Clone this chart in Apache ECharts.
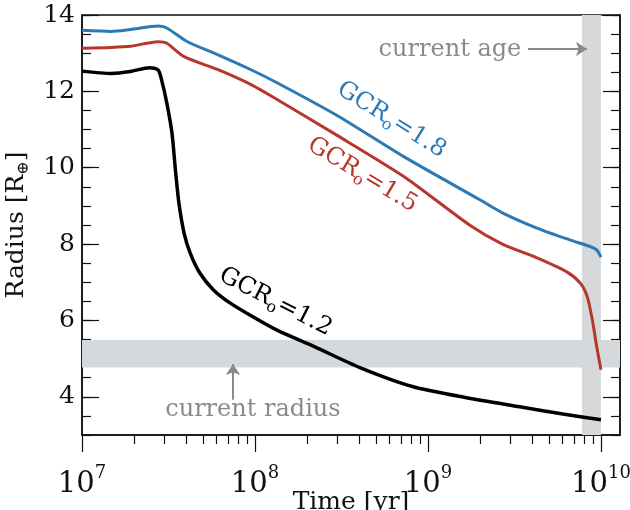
<!DOCTYPE html>
<html>
<head>
<meta charset="utf-8">
<script src="https://cdn.jsdelivr.net/npm/echarts@6/dist/echarts.min.js"></script>
<style>
html, body { margin: 0; padding: 0; background: #fff; }
#chart { width: 630px; height: 510px; }
</style>
</head>
<body>
<div id="chart"></div>
<script>
// x values are log10(age / yr), drawn on a linear axis labelled 10^n
var logAgeBlue = [7.0, 7.17, 7.28, 7.44, 7.49, 7.61, 7.79, 7.98, 8.13, 8.47, 8.86, 9.30, 9.43, 9.63, 9.82, 9.94, 9.975, 10.0];
var radiusBlue = [13.60, 13.57, 13.62, 13.71, 13.66, 13.30, 12.95, 12.56, 12.22, 11.38, 10.29, 9.16, 8.82, 8.42, 8.11, 7.93, 7.85, 7.66];

var logAgeRed = [7.0, 7.17, 7.28, 7.44, 7.49, 7.59, 7.79, 7.98, 8.13, 8.47, 8.86, 9.24, 9.43, 9.63, 9.80, 9.88, 9.92, 9.95, 9.975, 10.0];
var radiusRed = [13.13, 13.15, 13.18, 13.30, 13.26, 12.91, 12.56, 12.17, 11.78, 10.86, 9.77, 8.50, 8.00, 7.64, 7.28, 6.98, 6.63, 6.02, 5.32, 4.71];

var logAgeBlack = [7.0, 7.17, 7.28, 7.39, 7.44, 7.46, 7.49, 7.52, 7.54, 7.56, 7.59, 7.625, 7.68, 7.76, 7.855, 7.99, 8.13, 8.34, 8.61, 8.91, 9.23, 9.53, 9.78, 10.0];
var radiusBlack = [12.53, 12.47, 12.52, 12.62, 12.56, 12.30, 11.70, 10.91, 9.94, 9.08, 8.29, 7.77, 7.25, 6.80, 6.46, 6.09, 5.74, 5.32, 4.76, 4.27, 3.97, 3.74, 3.55, 3.40];

var decades = [7, 8, 9, 10];
var radiusTicks = [4, 6, 8, 10, 12, 14];
var currentAge = [9.89, 10.0];      // log10 yr
var currentRadius = [4.77, 5.49];   // R_earth

var AGE_MIN = 7, AGE_MAX = 10.11;
var R_MIN = 3, R_MAX = 14;
var FONT = 'DejaVu Serif';
var GREY = '#8b8b86';

var minorAge = [];
for (var d = 7; d < 10; d++) {
    for (var k = 2; k < 10; k++) {
        minorAge.push(d + Math.log10(k));
    }
}

function pairs(xs, ys) {
    return xs.map(function (x, i) { return [x, ys[i]]; });
}

function gcrLabel(coord, text, rot, color) {
    return {
        symbol: 'circle',
        symbolSize: 0,
        silent: true,
        itemStyle: { color: 'transparent' },
        label: {
            show: true,
            position: 'inside',
            rotate: rot,
            color: color,
            formatter: '{m|GCR}{o|o}{m|=' + text + '}',
            rich: {
                m: { fontFamily: FONT, fontSize: 24, lineHeight: 26, verticalAlign: 'top', color: color },
                o: { fontFamily: FONT, fontSize: 16, lineHeight: 16, padding: [11, 0, 0, 0], verticalAlign: 'top', color: color }
            }
        },
        data: [{ coord: coord }]
    };
}

var tickLine = { color: '#111', width: 1.2 };

var option = {
    animation: false,
    backgroundColor: '#fff',
    grid: {
        left: 82, right: 10, top: 15, bottom: 75,
        outerBoundsMode: 'none', containLabel: false,
        show: true, borderColor: '#111', borderWidth: 1.5, backgroundColor: 'transparent'
    },
    xAxis: [{
        type: 'value', min: AGE_MIN, max: AGE_MAX, position: 'bottom',
        axisLine: { show: true, lineStyle: { color: '#111', width: 1.5 } },
        axisTick: { show: true, customValues: decades, length: 17, lineStyle: tickLine },
        axisLabel: {
            customValues: decades, margin: 35, color: '#111',
            formatter: function (v) { return '{b|10}{s|' + v + '}'; },
            rich: {
                b: { fontFamily: FONT, fontSize: 29, lineHeight: 29, verticalAlign: 'bottom', color: '#111' },
                s: { fontFamily: FONT, fontSize: 18, lineHeight: 18, padding: [0, 0, 17, 0], verticalAlign: 'bottom', color: '#111' }
            }
        },
        splitLine: { show: false },
        name: 'Time [yr]', nameLocation: 'middle', nameGap: 55, nameMoveOverlap: false,
        nameTextStyle: { fontFamily: FONT, fontSize: 25, color: '#111' }
    }, {
        type: 'value', min: AGE_MIN, max: AGE_MAX, position: 'bottom',
        axisLine: { show: false },
        axisTick: { show: true, customValues: minorAge, length: 9, lineStyle: tickLine },
        axisLabel: { show: false },
        splitLine: { show: false }
    }],
    yAxis: [{
        type: 'value', min: R_MIN, max: R_MAX, position: 'left',
        axisLine: { show: true, lineStyle: { color: '#111', width: 1.5 } },
        axisTick: { show: true, inside: true, customValues: radiusTicks, length: 17, lineStyle: tickLine },
        axisLabel: { customValues: radiusTicks, margin: 7, fontFamily: FONT, fontSize: 25, color: '#111' },
        splitLine: { show: false },
        name: '{a|Radius [R}{e|⊕}{a|]}', nameLocation: 'middle', nameGap: 46, nameRotate: 90,
        nameTextStyle: {
            rich: {
                a: { fontFamily: FONT, fontSize: 25, lineHeight: 28, verticalAlign: 'top', color: '#111' },
                e: { fontFamily: FONT, fontSize: 16, lineHeight: 16, padding: [12, 0, 0, 0], verticalAlign: 'top', color: '#111' }
            }
        }
    }, {
        type: 'value', min: R_MIN, max: R_MAX, interval: 0.5, position: 'left',
        axisLine: { show: false },
        axisTick: { show: true, inside: true, length: 9, lineStyle: tickLine },
        axisLabel: { show: false },
        splitLine: { show: false }
    }, {
        type: 'value', min: R_MIN, max: R_MAX, position: 'right',
        axisLine: { show: true, lineStyle: { color: '#111', width: 1.5 } },
        axisTick: { show: true, inside: true, customValues: radiusTicks, length: 17, lineStyle: tickLine },
        axisLabel: { show: false },
        splitLine: { show: false }
    }, {
        type: 'value', min: R_MIN, max: R_MAX, interval: 0.5, position: 'right',
        axisLine: { show: false },
        axisTick: { show: true, inside: true, length: 9, lineStyle: tickLine },
        axisLabel: { show: false },
        splitLine: { show: false }
    }],
    series: [{
        // grey bands + annotations
        type: 'line', data: [], silent: true,
        markArea: {
            silent: true,
            itemStyle: { color: '#d6d9dc' },
            data: [
                [{ xAxis: currentAge[0], yAxis: R_MIN }, { xAxis: currentAge[1], yAxis: R_MAX }],
                [{ xAxis: AGE_MIN, yAxis: currentRadius[0] }, { xAxis: AGE_MAX, yAxis: currentRadius[1] }]
            ]
        },
        markLine: {
            silent: true,
            symbol: ['none', 'arrow'],
            symbolSize: 11,
            label: { show: false },
            lineStyle: { color: GREY, width: 2, type: 'solid' },
            data: [
                [{ coord: [9.578, 13.11] }, { coord: [9.919, 13.11] }],
                [{ coord: [7.873, 3.92] }, { coord: [7.873, 4.86] }]
            ]
        },
        markPoint: {
            symbol: 'circle', symbolSize: 0, silent: true,
            itemStyle: { color: 'transparent' },
            label: { show: true, position: 'inside', fontFamily: FONT, fontSize: 24, color: GREY },
            data: [
                { coord: [9.127, 13.08], label: { formatter: 'current age' } },
                { coord: [7.988, 3.66], label: { formatter: 'current radius' } }
            ]
        }
    }, {
        name: 'GCR 1.8', type: 'line', showSymbol: false, smooth: 0.25,
        lineStyle: { color: '#2c79b3', width: 3 },
        data: pairs(logAgeBlue, radiusBlue),
        markPoint: gcrLabel([8.786, 11.23], '1.8', -32, '#2c79b3')
    }, {
        name: 'GCR 1.5', type: 'line', showSymbol: false, smooth: 0.25,
        lineStyle: { color: '#b8372c', width: 3 },
        data: pairs(logAgeRed, radiusRed),
        markPoint: gcrLabel([8.618, 9.79], '1.5', -31, '#b8372c')
    }, {
        name: 'GCR 1.2', type: 'line', showSymbol: false, smooth: 0.25,
        lineStyle: { color: '#000', width: 3.5 },
        data: pairs(logAgeBlack, radiusBlack),
        markPoint: gcrLabel([8.116, 6.46], '1.2', -27, '#000')
    }]
};

var chart = echarts.init(document.getElementById('chart'), null, { renderer: 'canvas' });
chart.setOption(option);
</script>
</body>
</html>
